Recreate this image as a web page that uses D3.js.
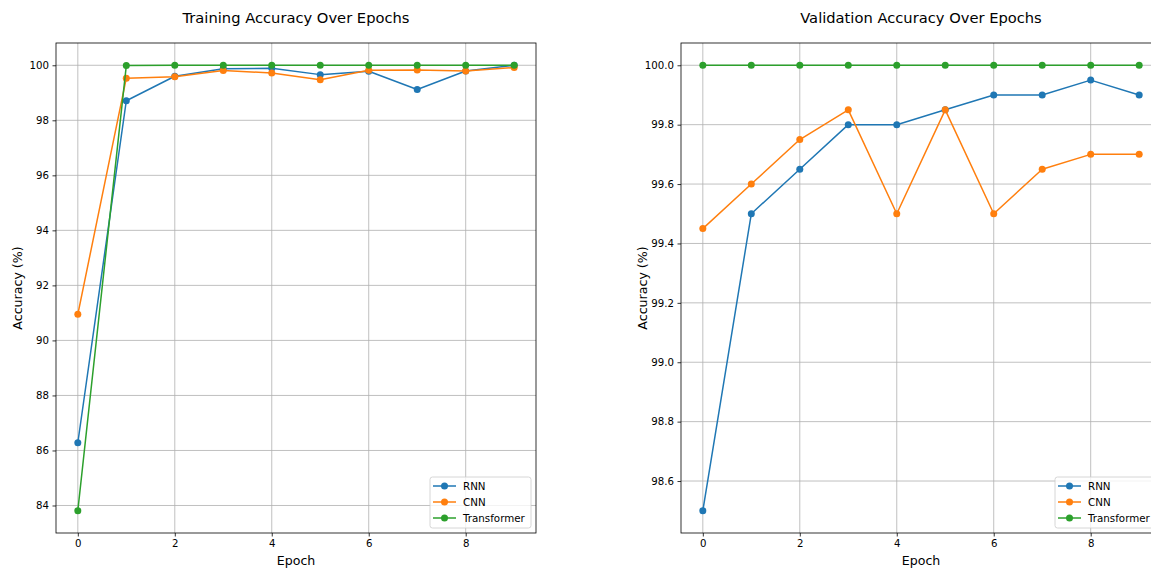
<!DOCTYPE html>
<html>
<head>
<meta charset="utf-8">
<script src="https://cdn.jsdelivr.net/npm/d3@7"></script>
<style>
  html, body { margin: 0; padding: 0; background: #fff; }
  svg { display: block; font-family: "DejaVu Sans", sans-serif; }
</style>
</head>
<body>
<svg id="chart" width="1151" height="568"></svg>
<script>
// ---- data ----
const epochs = [0, 1, 2, 3, 4, 5, 6, 7, 8, 9];
const seriesNames = ["RNN", "CNN", "Transformer"];
const seriesColors = ["#1f77b4", "#ff7f0e", "#2ca02c"];

const trainRNN = [86.28, 98.71, 99.60, 99.87, 99.89, 99.66, 99.78, 99.12, 99.79, 100.0];
const trainCNN = [90.95, 99.53, 99.58, 99.81, 99.72, 99.47, 99.82, 99.83, 99.79, 99.92];
const trainTransformer = [83.81, 99.99, 100.0, 100.0, 100.0, 100.0, 100.0, 100.0, 100.0, 100.0];

const valRNN = [98.50, 99.50, 99.65, 99.80, 99.80, 99.85, 99.90, 99.90, 99.95, 99.90];
const valCNN = [99.45, 99.60, 99.75, 99.85, 99.50, 99.85, 99.50, 99.65, 99.70, 99.70];
const valTransformer = [100.0, 100.0, 100.0, 100.0, 100.0, 100.0, 100.0, 100.0, 100.0, 100.0];

const xTicks = [0, 2, 4, 6, 8];
const trainYTicks = [84, 86, 88, 90, 92, 94, 96, 98, 100];
const valYTicks = [98.6, 98.8, 99.0, 99.2, 99.4, 99.6, 99.8, 100.0];

const panels = [
  { title: "Training Accuracy Over Epochs", series: [trainRNN, trainCNN, trainTransformer],
    yTicks: trainYTicks, yFmt: d3.format("d"), left: 56, right: 536 },
  { title: "Validation Accuracy Over Epochs", series: [valRNN, valCNN, valTransformer],
    yTicks: valYTicks, yFmt: d3.format(".1f"), left: 681, right: 1161 }
];

const axTop = 43, axBottom = 533;
const svg = d3.select("#chart");
svg.append("rect").attr("width", 1151).attr("height", 568).attr("fill", "#fff");

function padded(lo, hi) {
  const m = (hi - lo) * 0.05;
  return [lo - m, hi + m];
}

panels.forEach((p, pi) => {
  const g = svg.append("g");
  const w = p.right - p.left, h = axBottom - axTop;
  const x = d3.scaleLinear().domain(padded(d3.min(epochs), d3.max(epochs))).range([p.left, p.right]);
  const all = p.series.flat();
  const y = d3.scaleLinear().domain(padded(d3.min(all), d3.max(all))).range([axBottom, axTop]);

  const clipId = "clip" + pi;
  svg.append("clipPath").attr("id", clipId).append("rect")
    .attr("x", p.left).attr("y", axTop).attr("width", w).attr("height", h);

  // grid
  const grid = g.append("g");
  grid.selectAll("line.gx").data(xTicks).join("line")
    .attr("x1", d => x(d)).attr("x2", d => x(d)).attr("y1", axTop).attr("y2", axBottom)
    .attr("stroke", "#b0b0b0").attr("stroke-width", 0.8);
  grid.selectAll("line.gy").data(p.yTicks).join("line")
    .attr("y1", d => y(d)).attr("y2", d => y(d)).attr("x1", p.left).attr("x2", p.right)
    .attr("stroke", "#b0b0b0").attr("stroke-width", 0.8);

  // axes
  const xAxis = d3.axisBottom(x).tickValues(xTicks).tickFormat(d3.format("d")).tickSize(3.5).tickPadding(3.5);
  const yAxis = d3.axisLeft(y).tickValues(p.yTicks).tickFormat(p.yFmt).tickSize(3.5).tickPadding(3.5);
  const gx = g.append("g").attr("transform", `translate(0,${axBottom})`).call(xAxis);
  const gy = g.append("g").attr("transform", `translate(${p.left},0)`).call(yAxis);
  [gx, gy].forEach(a => {
    a.select(".domain").remove();
    a.selectAll(".tick line").attr("stroke", "#000").attr("stroke-width", 0.8);
    a.selectAll(".tick text").attr("fill", "#000").attr("font-size", 10.2).attr("font-family", "DejaVu Sans");
  });

  // lines + markers
  const line = d3.line().x((d, i) => x(epochs[i])).y(d => y(d));
  p.series.forEach((s, si) => {
    const sg = g.append("g").attr("clip-path", `url(#${clipId})`);
    sg.append("path").datum(s).attr("d", line)
      .attr("fill", "none").attr("stroke", seriesColors[si]).attr("stroke-width", 1.5)
      .attr("stroke-linejoin", "round").attr("stroke-linecap", "square");
    sg.selectAll("circle").data(s).join("circle")
      .attr("cx", (d, i) => x(epochs[i])).attr("cy", d => y(d)).attr("r", 3.5)
      .attr("fill", seriesColors[si]);
  });

  // spines
  g.append("rect").attr("x", p.left).attr("y", axTop).attr("width", w).attr("height", h)
    .attr("fill", "none").attr("stroke", "#000").attr("stroke-width", 0.8);

  // title and labels
  g.append("text").attr("x", (p.left + p.right) / 2).attr("y", 23)
    .attr("text-anchor", "middle").attr("font-size", 14.7).attr("fill", "#000").text(p.title);
  g.append("text").attr("x", (p.left + p.right) / 2).attr("y", 565)
    .attr("text-anchor", "middle").attr("font-size", 12.6).attr("fill", "#000").text("Epoch");
  g.append("text").attr("transform", `translate(${p.left - 39},${(axTop + axBottom) / 2}) rotate(-90)`)
    .attr("text-anchor", "middle").attr("dominant-baseline", "central")
    .attr("font-size", 12.6).attr("fill", "#000").text("Accuracy (%)");

  // legend (lower right)
  const lw = 101, lh = 51;
  const lx = p.right - 5 - lw, ly = axBottom - 5 - lh;
  const lg = g.append("g");
  lg.append("rect").attr("x", lx).attr("y", ly).attr("width", lw).attr("height", lh)
    .attr("rx", 2.5).attr("fill", "#fff").attr("fill-opacity", 0.8)
    .attr("stroke", "#cccccc").attr("stroke-width", 0.8);
  seriesNames.forEach((name, si) => {
    const ry = ly + 9 + si * 16;
    lg.append("line").attr("x1", lx + 3).attr("x2", lx + 26).attr("y1", ry).attr("y2", ry)
      .attr("stroke", seriesColors[si]).attr("stroke-width", 1.5);
    lg.append("circle").attr("cx", lx + 14.5).attr("cy", ry).attr("r", 3.5).attr("fill", seriesColors[si]);
    lg.append("text").attr("x", lx + 33).attr("y", ry).attr("dominant-baseline", "central")
      .attr("font-size", 10.3).attr("fill", "#000").text(name);
  });
});
</script>
</body>
</html>
